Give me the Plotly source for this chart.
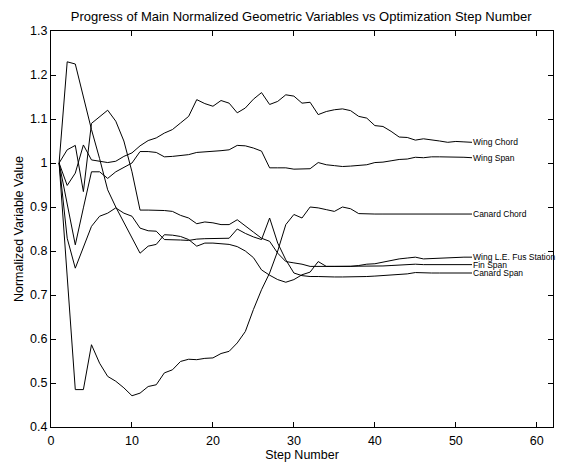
import plotly.graph_objects as go

steps = list(range(1, 53))

wing_chord = [1.0, 0.949, 0.977, 1.041, 1.007, 1.004, 1.001, 1.004, 1.015, 1.023,
              1.039, 1.051, 1.057, 1.068, 1.076, 1.091, 1.106, 1.144, 1.135, 1.129,
              1.142, 1.136, 1.114, 1.125, 1.145, 1.16, 1.133, 1.14, 1.155, 1.152,
              1.136, 1.138, 1.110, 1.117, 1.121, 1.123, 1.119, 1.106, 1.102, 1.085,
              1.083, 1.072, 1.059, 1.058, 1.052, 1.055, 1.053, 1.050, 1.047, 1.049,
              1.048, 1.047]

wing_span = [1.0, 0.905, 0.814, 0.898, 0.98, 0.98, 0.965, 0.98, 0.99, 1.0,
             1.026, 1.026, 1.024, 1.014, 1.015, 1.017, 1.019, 1.024, 1.025, 1.026,
             1.028, 1.030, 1.040, 1.039, 1.034, 1.027, 0.989, 0.989, 0.989, 0.986,
             0.986, 0.987, 1.001, 0.996, 0.994, 0.992, 0.993, 0.995, 0.996, 1.001,
             1.002, 1.005, 1.008, 1.009, 1.013, 1.012, 1.014, 1.014, 1.014, 1.013,
             1.013, 1.012]

canard_chord = [1.0, 0.74, 0.485, 0.485, 0.587, 0.545, 0.515, 0.504, 0.489, 0.471,
                0.477, 0.492, 0.496, 0.523, 0.530, 0.549, 0.554, 0.553, 0.556, 0.557,
                0.567, 0.572, 0.591, 0.617, 0.667, 0.712, 0.750, 0.800, 0.860, 0.883,
                0.875, 0.900, 0.898, 0.894, 0.890, 0.900, 0.896, 0.885, 0.884, 0.884,
                0.884, 0.884, 0.884, 0.884, 0.884, 0.884, 0.884, 0.884, 0.884, 0.884,
                0.884, 0.884]

wing_le = [1.0, 1.03, 1.04, 0.935, 1.09, 1.105, 1.12, 1.095, 1.05, 0.98,
           0.893, 0.893, 0.893, 0.892, 0.890, 0.881, 0.875, 0.862, 0.866, 0.864,
           0.860, 0.860, 0.871, 0.856, 0.843, 0.829, 0.822, 0.795, 0.776, 0.773,
           0.770, 0.765, 0.765, 0.764, 0.764, 0.765, 0.765, 0.767, 0.770, 0.771,
           0.775, 0.778, 0.782, 0.784, 0.786, 0.782, 0.783, 0.784, 0.784, 0.785,
           0.786, 0.786]

fin_span = [1.0, 1.23, 1.225, 1.15, 1.076, 1.01, 0.939, 0.90, 0.865, 0.83,
            0.795, 0.811, 0.815, 0.837, 0.836, 0.833, 0.826, 0.811, 0.818, 0.818,
            0.817, 0.815, 0.81, 0.80, 0.785, 0.757, 0.745, 0.735, 0.729, 0.735,
            0.746, 0.752, 0.776, 0.765, 0.765, 0.765, 0.765, 0.765, 0.765, 0.765,
            0.766, 0.767, 0.768, 0.769, 0.770, 0.769, 0.769, 0.769, 0.769, 0.769,
            0.769, 0.769]

canard_span = [1.0, 0.829, 0.761, 0.808, 0.856, 0.879, 0.886, 0.898, 0.886, 0.879,
               0.852, 0.846, 0.845, 0.826, 0.826, 0.825, 0.824, 0.827, 0.828, 0.828,
               0.829, 0.829, 0.850, 0.840, 0.832, 0.826, 0.875, 0.818, 0.780, 0.750,
               0.744, 0.742, 0.742, 0.741, 0.741, 0.741, 0.741, 0.742, 0.742, 0.743,
               0.744, 0.746, 0.746, 0.748, 0.751, 0.750, 0.750, 0.750, 0.750, 0.750,
               0.750, 0.750]

series = [
    ("Wing Chord", wing_chord),
    ("Wing Span", wing_span),
    ("Canard Chord", canard_chord),
    ("Wing L.E. Fus Station", wing_le),
    ("Fin Span", fin_span),
    ("Canard Span", canard_span),
]

x_ticks = [0, 10, 20, 30, 40, 50, 60]
y_ticks = [0.4, 0.5, 0.6, 0.7, 0.8, 0.9, 1.0, 1.1, 1.2, 1.3]
y_tick_text = ["0.4", "0.5", "0.6", "0.7", "0.8", "0.9", "1", "1.1", "1.2", "1.3"]

FONT = "Liberation Sans, Arial, Helvetica, sans-serif"

fig = go.Figure()
for name, vals in series:
    fig.add_trace(go.Scatter(x=steps, y=vals, mode="lines", name=name,
                             line=dict(color="black", width=1)))
    fig.add_annotation(x=steps[-1], y=vals[-1], text=name, showarrow=False,
                       xanchor="left", yanchor="middle", xshift=-1,
                       font=dict(family=FONT, size=8.5, color="black"))

fig.update_layout(
    width=564, height=462,
    margin=dict(l=51, r=11, t=31, b=35, autoexpand=False),
    paper_bgcolor="white", plot_bgcolor="white",
    showlegend=False,
    font=dict(family=FONT, size=12, color="black"),
    title=dict(text="Progress of Main Normalized Geometric Variables vs Optimization Step Number",
               x=0.534, xanchor="center", y=0.964, yanchor="middle",
               font=dict(family=FONT, size=13, color="black")),
)
fig.update_xaxes(range=[0, 62], tickvals=x_ticks, ticks="inside", ticklen=5,
                 tickcolor="black", showline=True, linecolor="black", linewidth=1,
                 mirror="ticks", showgrid=False, zeroline=False, automargin=False,
                 ticklabelstandoff=2,
                 title=dict(text="Step Number", standoff=0,
                            font=dict(family=FONT, size=12.5)),
                 tickfont=dict(family=FONT, size=12.5))
fig.update_yaxes(range=[0.4, 1.3], tickvals=y_ticks, ticktext=y_tick_text,
                 ticks="inside", ticklen=5, tickcolor="black", showline=True,
                 linecolor="black", linewidth=1, mirror="ticks", showgrid=False,
                 zeroline=False, automargin=False,
                 title=dict(text="Normalized Variable Value", standoff=3,
                            font=dict(family=FONT, size=12.5)),
                 tickfont=dict(family=FONT, size=12.5))

fig.write_html("out.html")
